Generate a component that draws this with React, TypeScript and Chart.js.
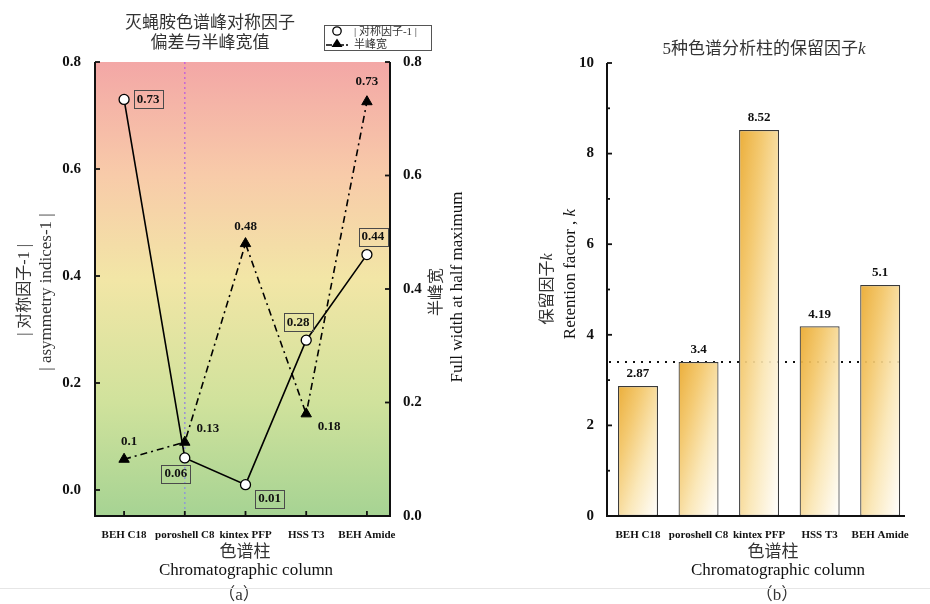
import React, { useEffect, useRef } from "react";
import { Chart, registerables } from "chart.js";

Chart.register(...registerables);

// ---------------- data ----------------
const columns = ["BEH C18", "poroshell C8", "kintex PFP", "HSS T3", "BEH Amide"];
const asymmetryDeviation = [0.73, 0.06, 0.01, 0.28, 0.44];
const halfPeakWidth = [0.1, 0.13, 0.48, 0.18, 0.73];
const retentionFactor = [2.87, 3.4, 8.52, 4.19, 5.1];
const asymTicks = [0, 0.2, 0.4, 0.6, 0.8];
const widthTicks = [0, 0.2, 0.4, 0.6, 0.8];
const kMajorTicks = [0, 2, 4, 6, 8, 10];
const kMinorTicks = [1, 3, 5, 7, 9];
const kReference = 3.4;
const markedColumn = "poroshell C8";

// ---------------- styles ----------------
const SERIF = '"Liberation Serif", "DejaVu Serif", serif';
const CJK = '"Liberation Serif", "Noto Sans CJK SC", serif';
const TEXT = "#333";
const asymLabelOffsets = [[24, 0], [-9, 16], [24, 14], [-8, -18], [6, -18]];
const widthLabelOffsets = [[5, -18], [23, -14], [0, -17], [23, 13], [0, -20]];
const BAR_FRACTION = 0.66;

function drawText(ctx: any, str: string, x: number, y: number, font: string, color: string, align = "center", rot = 0) {
  ctx.save();
  ctx.translate(x, y);
  ctx.rotate(rot);
  ctx.font = font;
  ctx.fillStyle = color;
  ctx.textAlign = align;
  ctx.textBaseline = "middle";
  ctx.fillText(str, 0, 0);
  ctx.restore();
}

function drawRich(ctx: any, parts: [string, string][], x: number, y: number, color: string, rot = 0) {
  ctx.save();
  ctx.translate(x, y);
  ctx.rotate(rot);
  ctx.fillStyle = color;
  ctx.textBaseline = "middle";
  ctx.textAlign = "left";
  let total = 0;
  for (const [s, f] of parts) {
    ctx.font = f;
    total += ctx.measureText(s).width;
  }
  let cx = -total / 2;
  for (const [s, f] of parts) {
    ctx.font = f;
    ctx.fillText(s, cx, 0);
    cx += ctx.measureText(s).width;
  }
  ctx.restore();
}

function line(ctx: any, x1: number, y1: number, x2: number, y2: number) {
  ctx.beginPath();
  ctx.moveTo(x1, y1);
  ctx.lineTo(x2, y2);
  ctx.stroke();
}

// ---------------- left chart plugin ----------------
const leftPlugin = {
  id: "leftDecor",
  beforeDraw(chart: any) {
    const { ctx, chartArea: a } = chart;
    ctx.save();
    ctx.fillStyle = "#fff";
    ctx.fillRect(0, 0, chart.width, chart.height);
    const g = ctx.createLinearGradient(0, a.top, 0, a.bottom);
    g.addColorStop(0, "#F3A7A6");
    g.addColorStop(0.25, "#F8CBA9");
    g.addColorStop(0.48, "#F2E6A6");
    g.addColorStop(0.75, "#D0E29C");
    g.addColorStop(1, "#A6D393");
    ctx.fillStyle = g;
    ctx.fillRect(a.left, a.top, a.right - a.left, a.bottom - a.top);
    const x = chart.scales.x.getPixelForValue(columns.indexOf(markedColumn));
    const lg = ctx.createLinearGradient(0, a.top, 0, a.bottom);
    lg.addColorStop(0, "#C865D6");
    lg.addColorStop(1, "#8C9CD6");
    ctx.strokeStyle = lg;
    ctx.lineWidth = 1.5;
    ctx.setLineDash([2, 3]);
    line(ctx, x, a.top, x, a.bottom);
    ctx.restore();
  },
  afterDatasetsDraw(chart: any) {
    const { ctx } = chart;
    ctx.save();
    const font = "bold 13px " + SERIF;
    const m0 = chart.getDatasetMeta(0).data;
    m0.forEach((p: any, i: number) => {
      const [dx, dy] = asymLabelOffsets[i];
      const str = asymmetryDeviation[i].toFixed(2);
      ctx.font = font;
      const w = ctx.measureText(str).width;
      const cx = p.x + dx, cy = p.y + dy;
      ctx.strokeStyle = "#4a4a4a";
      ctx.lineWidth = 1;
      ctx.setLineDash([]);
      ctx.strokeRect(Math.round(cx - w / 2 - 3) + 0.5, Math.round(cy - 9) + 0.5, Math.round(w + 6), 18);
      drawText(ctx, str, cx, cy, font, "#111");
    });
    const m1 = chart.getDatasetMeta(1).data;
    m1.forEach((p: any, i: number) => {
      const [dx, dy] = widthLabelOffsets[i];
      drawText(ctx, String(halfPeakWidth[i]), p.x + dx, p.y + dy, font, "#111");
    });
    ctx.restore();
  },
  afterDraw(chart: any) {
    const { ctx, chartArea: a, scales } = chart;
    ctx.save();
    ctx.strokeStyle = "#111";
    ctx.lineWidth = 2;
    ctx.setLineDash([]);
    ctx.beginPath();
    ctx.moveTo(a.left, a.top);
    ctx.lineTo(a.left, a.bottom);
    ctx.lineTo(a.right, a.bottom);
    ctx.lineTo(a.right, a.top);
    ctx.stroke();
    ctx.lineWidth = 1.8;
    asymTicks.forEach((v) => {
      const y = scales.y.getPixelForValue(v);
      line(ctx, a.left, y, a.left + 5, y);
    });
    widthTicks.forEach((v) => {
      const y = scales.y1.getPixelForValue(v);
      line(ctx, a.right - 5, y, a.right, y);
    });
    columns.forEach((_, i) => {
      const x = scales.x.getPixelForValue(i);
      line(ctx, x, a.bottom, x, a.bottom - 5);
    });

    // title
    drawText(ctx, "灭蝇胺色谱峰对称因子", 210, 24, "17px " + CJK, TEXT);
    drawText(ctx, "偏差与半峰宽值", 210, 44, "17px " + CJK, TEXT);

    // axis titles
    const up = -Math.PI / 2;
    drawText(ctx, "| 对称因子-1 |", 25, 290, "16px " + CJK, TEXT, "center", up);
    drawText(ctx, "| asymmetry indices-1 |", 47, 292, "17px " + SERIF, TEXT, "center", up);
    drawText(ctx, "半峰宽", 437, 292, "16px " + CJK, TEXT, "center", up);
    drawText(ctx, "Full width at half maximum", 458, 287, "17px " + SERIF, "#111", "center", up);
    drawText(ctx, "色谱柱", 245, 553, "17px " + CJK, TEXT);
    drawText(ctx, "Chromatographic column", 246, 571, "17px " + SERIF, "#111");
    drawText(ctx, "（a）", 239, 596, "17px " + CJK, TEXT);

    // legend
    ctx.strokeStyle = "#555";
    ctx.lineWidth = 1;
    ctx.strokeRect(324.5, 25.5, 107, 25);
    ctx.strokeStyle = "#000";
    ctx.lineWidth = 1.5;
    ctx.setLineDash([6, 2, 2, 2]);
    line(ctx, 326, 45, 350, 45);
    ctx.setLineDash([]);
    ctx.beginPath();
    ctx.arc(337, 31, 4.2, 0, Math.PI * 2);
    ctx.fillStyle = "#fff";
    ctx.fill();
    ctx.lineWidth = 1.3;
    ctx.stroke();
    ctx.beginPath();
    ctx.moveTo(337, 38.5);
    ctx.lineTo(342.5, 47);
    ctx.lineTo(331.5, 47);
    ctx.closePath();
    ctx.fillStyle = "#000";
    ctx.fill();
    drawText(ctx, "| 对称因子-1 |", 354, 32, "11px " + CJK, TEXT, "left");
    drawText(ctx, "半峰宽", 354, 45, "11px " + CJK, TEXT, "left");

    // faint separator
    ctx.strokeStyle = "#e6e6e6";
    ctx.lineWidth = 1;
    line(ctx, 0, 588.5, chart.width, 588.5);
    ctx.restore();
  },
};

// ---------------- right chart plugin ----------------
const rightPlugin = {
  id: "rightDecor",
  beforeDraw(chart: any) {
    const { ctx } = chart;
    ctx.save();
    ctx.fillStyle = "#fff";
    ctx.fillRect(0, 0, chart.width, chart.height);
    ctx.restore();
  },
  beforeDatasetsDraw(chart: any) {
    const { ctx, chartArea: a, scales } = chart;
    ctx.save();
    const y = scales.y.getPixelForValue(kReference);
    ctx.strokeStyle = "#111";
    ctx.lineWidth = 2;
    ctx.setLineDash([2, 6]);
    line(ctx, a.left + 2, y, a.right - 4, y);
    ctx.restore();
  },
  afterDatasetsDraw(chart: any) {
    const { ctx } = chart;
    const meta = chart.getDatasetMeta(0).data;
    meta.forEach((b: any, i: number) => {
      drawText(ctx, String(retentionFactor[i]), b.x, b.y - 12, "bold 13px " + SERIF, "#111");
    });
  },
  afterDraw(chart: any) {
    const { ctx, chartArea: a, scales } = chart;
    ctx.save();
    ctx.strokeStyle = "#111";
    ctx.lineWidth = 2;
    ctx.setLineDash([]);
    ctx.beginPath();
    ctx.moveTo(a.left, a.top);
    ctx.lineTo(a.left, a.bottom);
    ctx.lineTo(a.right, a.bottom);
    ctx.stroke();
    ctx.lineWidth = 1.8;
    kMajorTicks.forEach((v) => {
      const y = scales.y.getPixelForValue(v);
      line(ctx, a.left, y, a.left + 5, y);
    });
    kMinorTicks.forEach((v) => {
      const y = scales.y.getPixelForValue(v);
      line(ctx, a.left, y, a.left + 3, y);
    });

    const ital = "italic 17px " + SERIF;
    drawRich(ctx, [["5种色谱分析柱的保留因子", "17px " + CJK], ["k", ital]], 299, 50, TEXT);
    const up = -Math.PI / 2;
    drawRich(ctx, [["保留因子", "16px " + CJK], ["k", "italic 16px " + SERIF]], 83, 289, TEXT, up);
    drawRich(ctx, [["Retention factor , ", "17px " + SERIF], ["k", ital]], 106, 274, "#111", up);
    drawText(ctx, "色谱柱", 308, 553, "17px " + CJK, TEXT);
    drawText(ctx, "Chromatographic column", 313, 571, "17px " + SERIF, "#111");
    drawText(ctx, "（b）", 312, 596, "17px " + CJK, TEXT);

    ctx.strokeStyle = "#e6e6e6";
    ctx.lineWidth = 1;
    line(ctx, 0, 588.5, chart.width, 588.5);
    ctx.restore();
  },
};

const categoryTickFont = { family: SERIF, size: 11, weight: "bold" as const };
const valueTickFont = { family: SERIF, size: 15, weight: "bold" as const };

function categoryAxis(min: number, max: number) {
  return {
    type: "linear" as const,
    min,
    max,
    offset: false,
    grid: { display: false },
    border: { display: false },
    afterBuildTicks: (s: any) => {
      s.ticks = columns.map((_, i) => ({ value: i }));
    },
    afterFit: (s: any) => {
      s.height = 88;
    },
    ticks: {
      autoSkip: false,
      maxRotation: 0,
      padding: 5,
      color: "#111",
      font: categoryTickFont,
      callback: (v: any) => columns[v] ?? "",
    },
  };
}

export default function App() {
  const leftRef = useRef<HTMLCanvasElement>(null);
  const rightRef = useRef<HTMLCanvasElement>(null);

  useEffect(() => {
    const left = new Chart(leftRef.current as HTMLCanvasElement, {
      type: "line",
      data: {
        datasets: [
          {
            label: "|对称因子-1|",
            data: asymmetryDeviation.map((v, i) => ({ x: i, y: v })),
            yAxisID: "y",
            borderColor: "#000",
            borderWidth: 1.6,
            pointStyle: "circle",
            pointRadius: 5,
            pointBackgroundColor: "#fff",
            pointBorderColor: "#000",
            pointBorderWidth: 1.3,
            tension: 0,
          },
          {
            label: "半峰宽",
            data: halfPeakWidth.map((v, i) => ({ x: i, y: v })),
            yAxisID: "y1",
            borderColor: "#000",
            borderWidth: 1.6,
            borderDash: [7, 4, 2, 4],
            pointStyle: "triangle",
            pointRadius: 6,
            pointBackgroundColor: "#000",
            pointBorderColor: "#000",
            pointBorderWidth: 1,
            tension: 0,
          },
        ],
      },
      options: {
        responsive: false,
        animation: false,
        layout: { padding: { top: 62, left: 0, right: 0, bottom: 0 } },
        plugins: { legend: { display: false }, tooltip: { enabled: false }, title: { display: false } },
        scales: {
          x: categoryAxis(-0.479, 4.38),
          y: {
            type: "linear",
            position: "left",
            min: -0.0486,
            max: 0.8,
            grid: { display: false },
            border: { display: false },
            afterBuildTicks: (s: any) => {
              s.ticks = asymTicks.map((v) => ({ value: v }));
            },
            afterFit: (s: any) => {
              s.width = 95;
            },
            ticks: { padding: 6, color: "#111", font: valueTickFont, callback: (v: any) => Number(v).toFixed(1) },
          },
          y1: {
            type: "linear",
            position: "right",
            min: 0,
            max: 0.8,
            grid: { display: false },
            border: { display: false },
            afterBuildTicks: (s: any) => {
              s.ticks = widthTicks.map((v) => ({ value: v }));
            },
            afterFit: (s: any) => {
              s.width = 75;
            },
            ticks: { padding: 5, color: "#111", font: valueTickFont, callback: (v: any) => Number(v).toFixed(1) },
          },
        },
      },
      plugins: [leftPlugin],
    });

    const right = new Chart(rightRef.current as HTMLCanvasElement, {
      type: "bar",
      data: {
        datasets: [
          {
            label: "k",
            data: retentionFactor.map((v, i) => ({ x: i, y: v })),
            borderColor: "#3a3a3a",
            borderWidth: 1.2,
            borderSkipped: false,
            barPercentage: BAR_FRACTION,
            categoryPercentage: 1,
            backgroundColor: (c: any) => {
              const chart = c.chart;
              if (!chart.chartArea || c.type !== "data") return "#F0B848";
              const xs = chart.scales.x;
              const ys = chart.scales.y;
              const cx = xs.getPixelForValue(c.dataIndex);
              const w = Math.abs(xs.getPixelForValue(1) - xs.getPixelForValue(0)) * BAR_FRACTION;
              const top = ys.getPixelForValue(retentionFactor[c.dataIndex]);
              const h = ys.getPixelForValue(0) - top;
              const x0 = cx - w / 2;
              const s = (2 * w * h) / (h * h + w * w);
              const g = chart.ctx.createLinearGradient(x0, top, x0 + s * h, top + s * w);
              g.addColorStop(0, "rgba(234,170,48,0.95)");
              g.addColorStop(0.3, "rgba(243,198,104,0.93)");
              g.addColorStop(0.62, "rgba(250,230,180,0.92)");
              g.addColorStop(1, "rgba(255,255,255,0.92)");
              return g;
            },
          },
        ],
      },
      options: {
        responsive: false,
        animation: false,
        layout: { padding: { top: 63, left: 0, right: 25, bottom: 0 } },
        plugins: { legend: { display: false }, tooltip: { enabled: false }, title: { display: false } },
        scales: {
          x: categoryAxis(-0.512, 4.41),
          y: {
            type: "linear",
            position: "left",
            min: 0,
            max: 10,
            grid: { display: false },
            border: { display: false },
            afterBuildTicks: (s: any) => {
              s.ticks = kMajorTicks.map((v) => ({ value: v }));
            },
            afterFit: (s: any) => {
              s.width = 142;
            },
            ticks: { padding: 5, color: "#111", font: valueTickFont, callback: (v: any) => String(v) },
          },
        },
      },
      plugins: [rightPlugin],
    });

    return () => {
      left.destroy();
      right.destroy();
    };
  }, []);

  return (
    <div style={{ position: "absolute", left: 0, top: 0, width: 930, height: 604, background: "#fff", overflow: "hidden" }}>
      <canvas ref={leftRef} width={465} height={604} style={{ position: "absolute", left: 0, top: 0, width: 465, height: 604 }} />
      <canvas ref={rightRef} width={465} height={604} style={{ position: "absolute", left: 465, top: 0, width: 465, height: 604 }} />
    </div>
  );
}
